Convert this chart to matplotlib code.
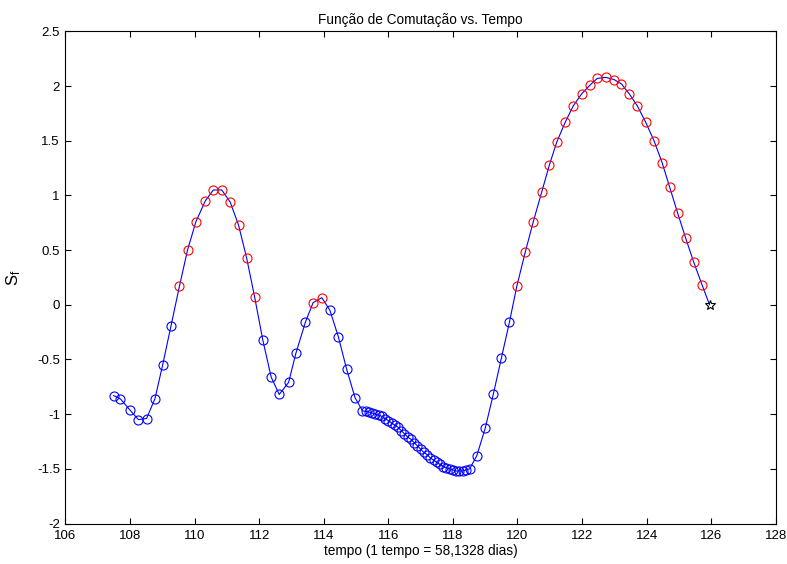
import numpy as np
import matplotlib as mpl
mpl.use('Agg')
import matplotlib.pyplot as plt

plt.rcParams['font.family'] = ['Liberation Sans', 'DejaVu Sans']
plt.rcParams['mathtext.fontset'] = 'custom'
plt.rcParams['mathtext.rm'] = 'Liberation Sans'

# tempo e função de comutação
tempo = [107.49, 107.70, 107.99, 108.26, 108.51, 108.77, 109.01, 109.27, 109.53, 109.78,
         110.04, 110.33, 110.58, 110.84, 111.10, 111.36, 111.61, 111.86, 112.11, 112.37,
         112.62, 112.91, 113.14, 113.43, 113.67, 113.94, 114.19, 114.45, 114.71, 114.97,
         115.20, 115.30, 115.40, 115.50, 115.60, 115.70, 115.80, 115.90, 116.00, 116.10,
         116.20, 116.30, 116.40, 116.50, 116.60, 116.70, 116.80, 116.90, 117.00, 117.10,
         117.20, 117.30, 117.40, 117.50, 117.60, 117.70, 117.80, 117.90, 118.00, 118.10,
         118.20, 118.30, 118.40, 118.52,
         118.74, 119.00, 119.25, 119.50, 119.75, 119.98, 120.24, 120.49, 120.75, 120.99,
         121.22, 121.48, 121.73, 121.99, 122.25, 122.47, 122.73, 122.99, 123.22, 123.46,
         123.71, 123.97, 124.23, 124.48, 124.71, 124.96, 125.21, 125.46, 125.72]
sf = [-0.83, -0.86, -0.96, -1.05, -1.04, -0.86, -0.55, -0.19, 0.17, 0.50,
      0.76, 0.95, 1.05, 1.05, 0.94, 0.73, 0.43, 0.07, -0.32, -0.66,
      -0.82, -0.71, -0.44, -0.16, 0.02, 0.065, -0.05, -0.29, -0.59, -0.85,
      -0.97, -0.975, -0.98, -0.99, -1.00, -1.01, -1.02, -1.04, -1.06, -1.08,
      -1.10, -1.12, -1.15, -1.18, -1.21, -1.23, -1.26, -1.29, -1.32, -1.35,
      -1.37, -1.40, -1.42, -1.44, -1.46, -1.48, -1.49, -1.50, -1.51, -1.52,
      -1.52, -1.52, -1.51, -1.50,
      -1.38, -1.13, -0.82, -0.49, -0.16, 0.17, 0.48, 0.76, 1.03, 1.28,
      1.49, 1.67, 1.82, 1.93, 2.01, 2.07, 2.08, 2.06, 2.02, 1.93,
      1.82, 1.67, 1.50, 1.30, 1.08, 0.84, 0.61, 0.39, 0.18]
tempo_final = 125.95
sf_final = 0.0

t = np.array(tempo)
s = np.array(sf)

fig = plt.figure(figsize=(7.87, 5.64), dpi=100)
ax = fig.add_axes([0.0832, 0.0718, 0.9025, 0.8725])

ax.plot(tempo + [tempo_final], sf + [sf_final], '-', color='#0000ff', lw=0.8)
pos = s > 0
ax.plot(t[~pos], s[~pos], 'o', mfc='none', mec='#0000ff', ms=6.5, mew=0.8)
ax.plot(t[pos], s[pos], 'o', mfc='none', mec='#ff0000', ms=6.5, mew=0.8)
ax.plot(tempo_final, sf_final, '*', mfc='none', mec='black', ms=7, mew=0.8)

ax.set_xlim(106, 128)
ax.set_ylim(-2, 2.5)
ax.set_xticks(np.arange(106, 129, 2))
ax.set_yticks(np.arange(-2, 2.51, 0.5))
ax.set_yticklabels(['-2', '-1.5', '-1', '-0.5', '0', '0.5', '1', '1.5', '2', '2.5'])
ax.tick_params(direction='in', top=True, right=True, length=4, width=0.8, labelsize=9.5)
ax.tick_params(axis='x', pad=5)
ax.tick_params(axis='y', pad=4)
for sp in ax.spines.values():
    sp.set_linewidth(0.8)

ax.set_title('Função de Comutação vs. Tempo', fontsize=9.8, pad=5)
ax.set_xlabel('tempo (1 tempo = 58,1328 dias)', fontsize=9.8, labelpad=1)
ax.set_ylabel(r'$\mathrm{S_f}$', fontsize=12, labelpad=10)

fig.savefig('out.png', dpi=100)
